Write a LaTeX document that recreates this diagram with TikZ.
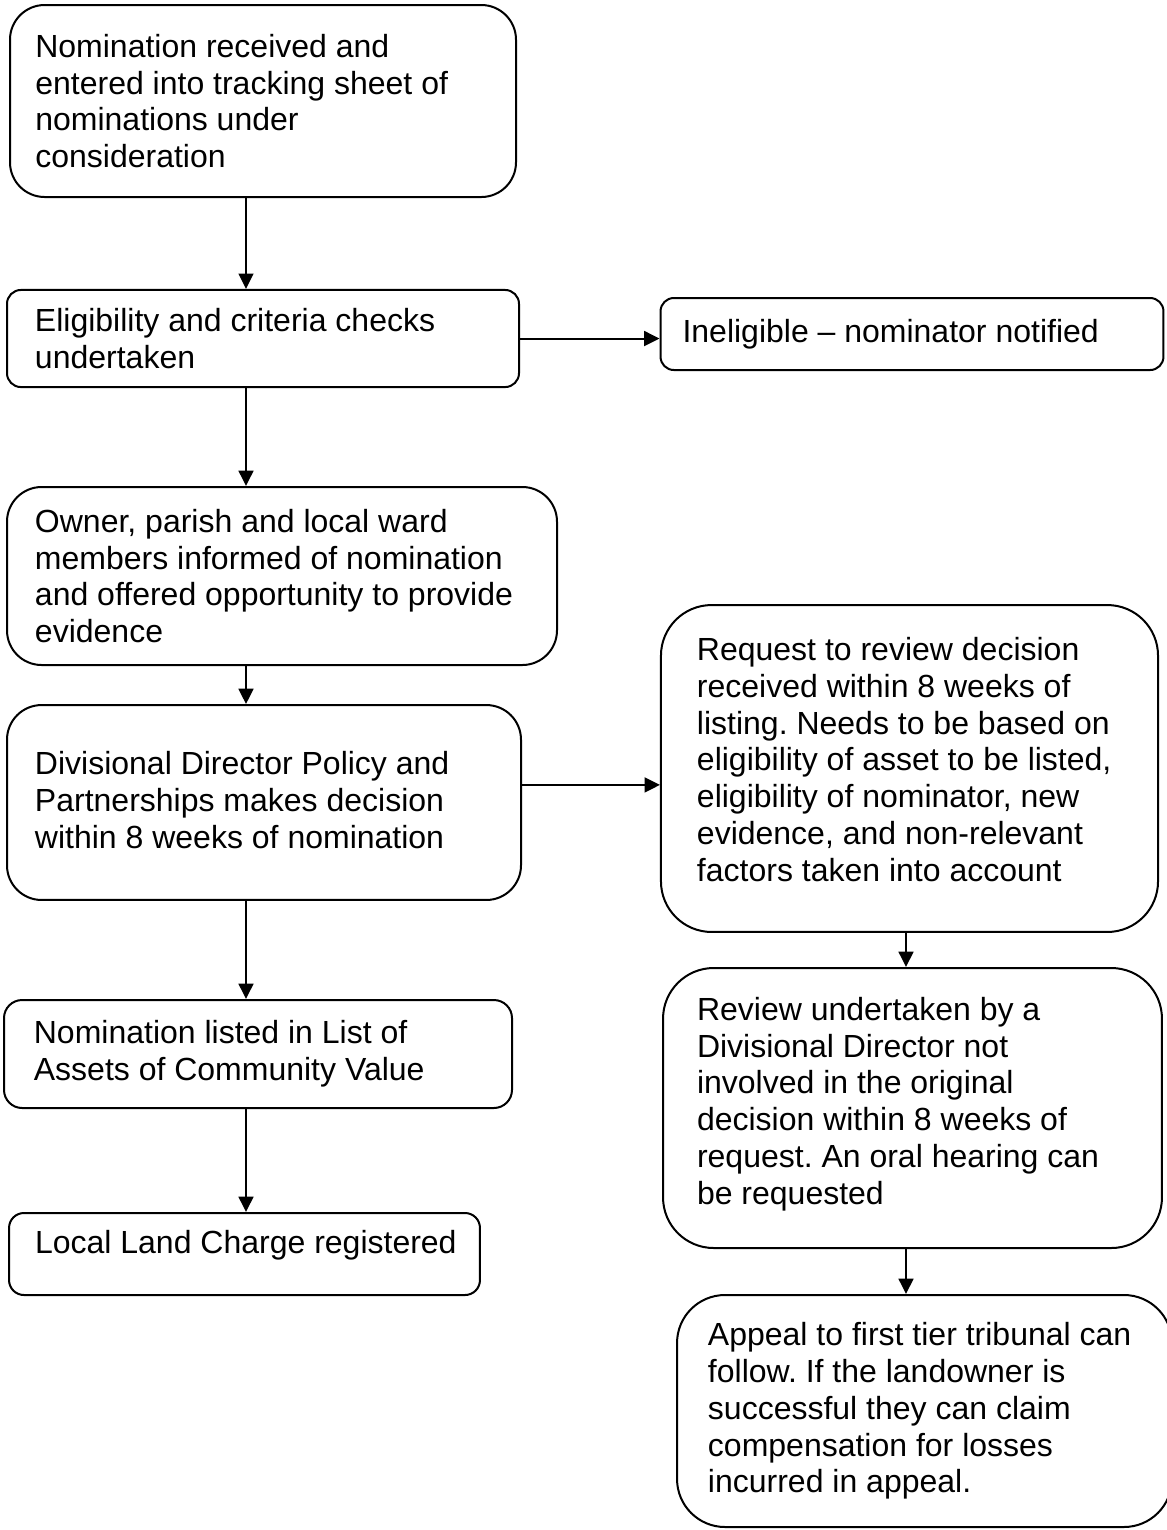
\documentclass[tikz,border=0pt]{standalone}
\usepackage{fontspec}
\setmainfont{Liberation Sans}
\usetikzlibrary{arrows.meta}
\frenchspacing

\begin{document}
\begin{tikzpicture}[x=0.375pt,y=-0.375pt,-,>={Triangle[length=5.8pt,width=5.6pt]},
  line width=0.75pt,
  main node/.style={draw,rectangle,inner sep=0pt},
  words node/.style={align=left,inner sep=0pt,anchor=west,font=\fontsize{12}{13.8}\selectfont}]
  \useasboundingbox (0,0) rectangle (1166,1530);

  % boxes
  \node[main node,rounded corners=13pt,minimum width=189.75pt,minimum height=72pt] (received) at (263,101) {};
  \node[main node,rounded corners=5.2pt,minimum width=192pt,minimum height=36.4pt] (checks) at (263,338.5) {};
  \node[main node,rounded corners=5pt,minimum width=188.6pt,minimum height=27pt] (ineligible) at (912,334) {};
  \node[main node,rounded corners=13pt,minimum width=206.25pt,minimum height=66.75pt] (informed) at (282,576) {};
  \node[main node,rounded corners=13pt,minimum width=192.75pt,minimum height=73.1pt] (decision) at (264,802.5) {};
  \node[main node,rounded corners=19pt,minimum width=186.4pt,minimum height=122.6pt] (request) at (909.5,768.5) {};
  \node[main node,rounded corners=19pt,minimum width=187.1pt,minimum height=105pt] (review) at (912.5,1108) {};
  \node[main node,rounded corners=18pt,minimum width=185.6pt,minimum height=87pt] (appeal) at (924.5,1411) {};
  \node[main node,rounded corners=6.8pt,minimum width=190.5pt,minimum height=40.5pt] (listed) at (258,1054) {};
  \node[main node,rounded corners=5.6pt,minimum width=176.6pt,minimum height=30.75pt] (charge) at (244.5,1254) {};

  % texts
  \node[words node] (receivedtext) at ([xshift=9.5pt]received.west)
    {Nomination received and\\entered into tracking sheet of\\nominations under\\consideration};
  \node[words node] (checkstext) at ([xshift=10.5pt]checks.west)
    {Eligibility and criteria checks\\undertaken};
  \node[words node] (ineligibletext) at ([xshift=8.25pt]ineligible.west)
    {Ineligible – nominator notified};
  \node[words node] (informedtext) at ([xshift=10.5pt]informed.west)
    {Owner, parish and local ward\\members informed of nomination\\and offered opportunity to provide\\evidence};
  \node[words node] (decisiontext) at ([xshift=10.5pt,yshift=1pt]decision.west)
    {Divisional Director Policy and\\Partnerships makes decision\\within 8 weeks of nomination};
  \node[words node] (requesttext) at ([xshift=13.5pt,yshift=3.4pt]request.west)
    {Request to review decision\\received within 8 weeks of\\listing. Needs to be based on\\eligibility of asset to be listed,\\eligibility of nominator, new\\evidence, and non-relevant\\factors taken into account};
  \node[words node] (reviewtext) at ([xshift=12.75pt,yshift=1.5pt]review.west)
    {Review undertaken by a\\Divisional Director not\\involved in the original\\decision within 8 weeks of\\request. An oral hearing can\\be requested};
  \node[words node] (appealtext) at ([xshift=11.6pt]appeal.west)
    {Appeal to first tier tribunal can\\follow. If the landowner is\\successful they can claim\\compensation for losses\\incurred in appeal.};
  \node[words node] (listedtext) at ([xshift=11.2pt]listed.west)
    {Nomination listed in List of\\Assets of Community Value};
  \node[words node] (chargetext) at ([xshift=9.75pt,yshift=3.4pt]charge.west)
    {Local Land Charge registered};

  % connectors
  \coordinate (leftspine) at (246,0);
  \coordinate (rightspine) at (906,0);
  \coordinate (reqin) at ([yshift=6.6pt]decision.east);

  \path[->]
    (received.south -| leftspine) edge (checks.north -| leftspine)
    (checks.south -| leftspine) edge (informed.north -| leftspine)
    (informed.south -| leftspine) edge (decision.north -| leftspine)
    (decision.south -| leftspine) edge (listed.north -| leftspine)
    (listed.south -| leftspine) edge (charge.north -| leftspine)
    (checks.east) edge (checks.east -| ineligible.west)
    (reqin) edge (reqin -| request.west)
    (request.south -| rightspine) edge (review.north -| rightspine)
    (review.south -| rightspine) edge (appeal.north -| rightspine);
\end{tikzpicture}
\end{document}
